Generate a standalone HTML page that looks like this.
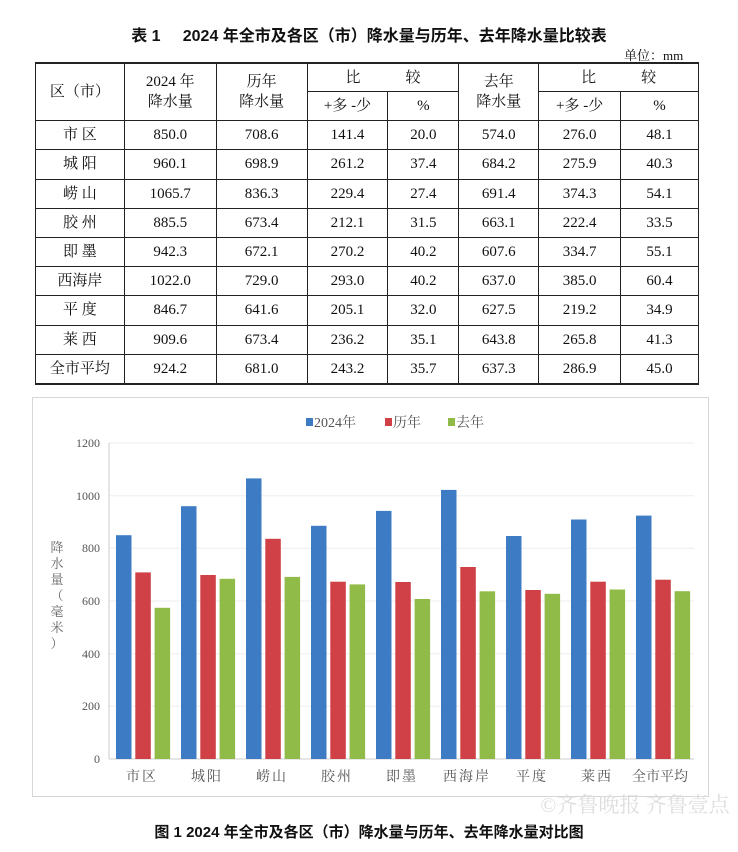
<!DOCTYPE html>
<html><head><meta charset="utf-8"><style>
body{margin:0;width:738px;height:852px;background:#fff;position:relative;overflow:hidden;font-family:"Liberation Serif","Noto Serif CJK SC",serif;color:#111}
.t{position:absolute;left:0;width:738px;text-align:center;font-family:"Liberation Sans","Noto Sans CJK SC",sans-serif;font-weight:bold;font-size:16px}
table{position:absolute;left:35px;top:62px;border-collapse:collapse;width:664px}
td{border:1px solid #222;text-align:center;font-size:15px;height:28.2px;padding:0;line-height:20px}
table tr:first-child td{height:27px}
.u{position:absolute;left:624px;top:45px;font-size:13px}
</style></head><body>
<div class="t" style="top:22px;">表 1&nbsp;&nbsp;&nbsp;&nbsp;&nbsp;2024 年全市及各区（市）降水量与历年、去年降水量比较表</div>
<div class="u">单位：mm</div>
<table>
<colgroup><col style="width:89px"><col style="width:92px"><col style="width:91px"><col style="width:81px"><col style="width:71px"><col style="width:80px"><col style="width:82px"><col style="width:78px"></colgroup>
<tr><td rowspan="2" style="border-top:2px solid #222">区（市）</td><td rowspan="2" style="border-top:2px solid #222">2024 年<br>降水量</td><td rowspan="2" style="border-top:2px solid #222">历年<br>降水量</td><td colspan="2" style="border-top:2px solid #222">比&nbsp;&nbsp;&nbsp;&nbsp;&nbsp;&nbsp;&nbsp;&nbsp;&nbsp;&nbsp;&nbsp;&nbsp;较</td><td rowspan="2" style="border-top:2px solid #222">去年<br>降水量</td><td colspan="2" style="border-top:2px solid #222">比&nbsp;&nbsp;&nbsp;&nbsp;&nbsp;&nbsp;&nbsp;&nbsp;&nbsp;&nbsp;&nbsp;&nbsp;较</td></tr>
<tr><td>+多 -少</td><td>%</td><td>+多 -少</td><td>%</td></tr>
<tr><td>市 区</td><td>850.0</td><td>708.6</td><td>141.4</td><td>20.0</td><td>574.0</td><td>276.0</td><td>48.1</td></tr>
<tr><td>城 阳</td><td>960.1</td><td>698.9</td><td>261.2</td><td>37.4</td><td>684.2</td><td>275.9</td><td>40.3</td></tr>
<tr><td>崂 山</td><td>1065.7</td><td>836.3</td><td>229.4</td><td>27.4</td><td>691.4</td><td>374.3</td><td>54.1</td></tr>
<tr><td>胶 州</td><td>885.5</td><td>673.4</td><td>212.1</td><td>31.5</td><td>663.1</td><td>222.4</td><td>33.5</td></tr>
<tr><td>即 墨</td><td>942.3</td><td>672.1</td><td>270.2</td><td>40.2</td><td>607.6</td><td>334.7</td><td>55.1</td></tr>
<tr><td>西海岸</td><td>1022.0</td><td>729.0</td><td>293.0</td><td>40.2</td><td>637.0</td><td>385.0</td><td>60.4</td></tr>
<tr><td>平 度</td><td>846.7</td><td>641.6</td><td>205.1</td><td>32.0</td><td>627.5</td><td>219.2</td><td>34.9</td></tr>
<tr><td>莱 西</td><td>909.6</td><td>673.4</td><td>236.2</td><td>35.1</td><td>643.8</td><td>265.8</td><td>41.3</td></tr>
<tr><td style="border-bottom:2px solid #222">全市平均</td><td style="border-bottom:2px solid #222">924.2</td><td style="border-bottom:2px solid #222">681.0</td><td style="border-bottom:2px solid #222">243.2</td><td style="border-bottom:2px solid #222">35.7</td><td style="border-bottom:2px solid #222">637.3</td><td style="border-bottom:2px solid #222">286.9</td><td style="border-bottom:2px solid #222">45.0</td></tr>
</table>
<svg style="position:absolute;left:0;top:0" width="738" height="852" font-family="Liberation Serif,Noto Serif CJK SC,serif">
<rect x="32.5" y="397.5" width="676" height="399" fill="none" stroke="#d6d6d6"/>
<g stroke="#eee"><line x1="109" x2="694" y1="443" y2="443"/><line x1="109" x2="694" y1="495.7" y2="495.7"/><line x1="109" x2="694" y1="548.3" y2="548.3"/><line x1="109" x2="694" y1="601" y2="601"/><line x1="109" x2="694" y1="653.7" y2="653.7"/><line x1="109" x2="694" y1="706.3" y2="706.3"/></g>
<line x1="109" x2="109" y1="443" y2="759" stroke="#ccc"/>
<line x1="109" x2="694" y1="759" y2="759" stroke="#ccc"/>
<g font-size="12" fill="#555" text-anchor="end"><text x="100" y="447">1200</text><text x="100" y="500">1000</text><text x="100" y="552">800</text><text x="100" y="605">600</text><text x="100" y="658">400</text><text x="100" y="710">200</text><text x="100" y="763">0</text></g>
<g font-size="13" fill="#666" text-anchor="middle"><text x="57" y="552">降</text><text x="57" y="568">水</text><text x="57" y="584">量</text><text x="57" y="600">（</text><text x="57" y="616">毫</text><text x="57" y="632">米</text><text x="57" y="648">）</text></g>
<g font-size="14" fill="#555"><rect x="306" y="418" width="7" height="8" fill="#3d7cc4"/><text x="314" y="427">2024年</text><rect x="385" y="418" width="7" height="8" fill="#cf4146"/><text x="393" y="427">历年</text><rect x="448" y="418" width="7" height="8" fill="#91bb48"/><text x="456" y="427">去年</text></g>
<g id="bars"></g>
<g font-size="14" fill="#555" text-anchor="middle" letter-spacing="2">
<text x="142" y="781">市区</text><text x="207" y="781">城阳</text><text x="272" y="781">崂山</text><text x="337" y="781">胶州</text><text x="402" y="781">即墨</text><text x="467" y="781">西海岸</text><text x="532" y="781">平度</text><text x="597" y="781">莱西</text><text x="660" y="781" letter-spacing="0">全市平均</text></g>
<text x="635" y="812" font-size="21" fill="#ddd" text-anchor="middle">©齐鲁晚报 齐鲁壹点</text>
<text x="369" y="837" font-size="15" font-weight="bold" text-anchor="middle" font-family="Liberation Sans,Noto Sans CJK SC,sans-serif" fill="#111">图 1 2024 年全市及各区（市）降水量与历年、去年降水量对比图</text>
</svg>
<script>
var d=[[850,708.6,574],[960.1,698.9,684.2],[1065.7,836.3,691.4],[885.5,673.4,663.1],[942.3,672.1,607.6],[1022,729,637],[846.7,641.6,627.5],[909.6,673.4,643.8],[924.2,681,637.3]];
var c=["#3d7cc4","#cf4146","#91bb48"],s="";
d.forEach(function(r,i){r.forEach(function(v,j){var h=v*316/1200,x=109+65*i+7+19.3*j;s+='<rect x="'+x.toFixed(1)+'" y="'+(759-h).toFixed(1)+'" width="15.5" height="'+h.toFixed(1)+'" fill="'+c[j]+'"/>';});});
document.getElementById("bars").innerHTML=s;
</script>
</body></html>
